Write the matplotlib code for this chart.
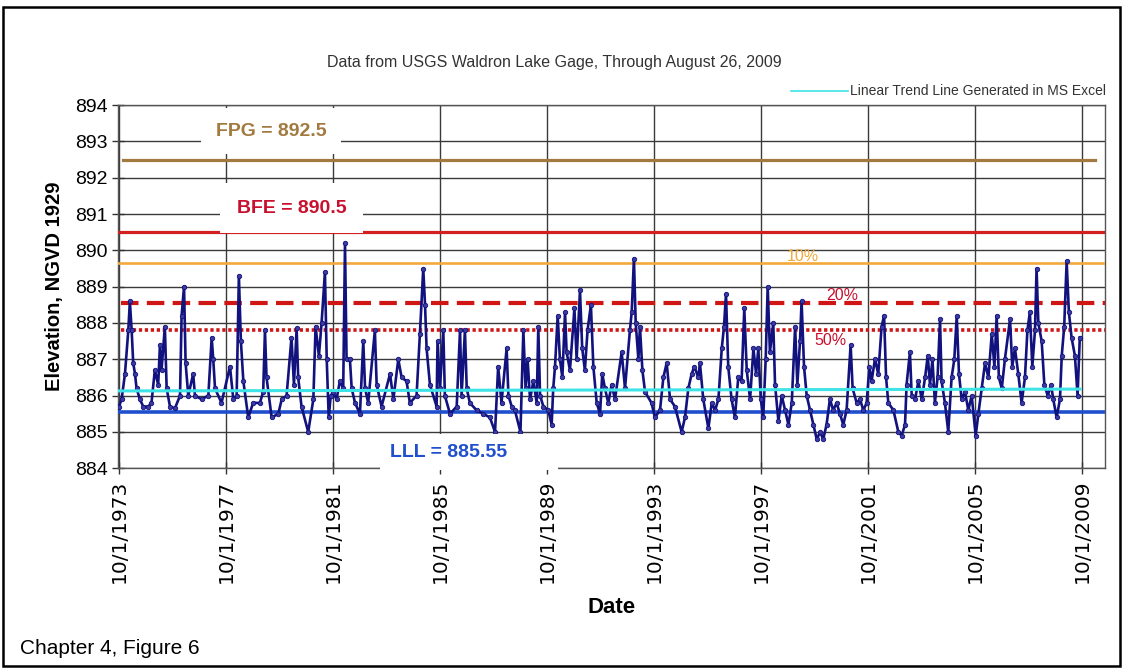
import matplotlib
matplotlib.use("Agg")
import matplotlib.pyplot as plt
import numpy as np
import pandas as pd
from matplotlib.patches import Rectangle

plt.rcParams['font.family'] = ['Liberation Sans', 'DejaVu Sans']

# gage readings: months since 10/1/1973 and lake elevation (ft, NGVD 1929)
month_offset = [
    0.0, 1.2, 2.7, 4.2, 4.9, 5.7, 6.4, 7.2, 7.9, 9.4, 10.9, 13.2, 14.6, 16.1, 17.6,
    18.4, 19.1, 20.6, 21.4, 22.9, 25.1, 27.4, 28.1, 29.2, 29.9, 31.1, 33.3, 34.1,
    37.1, 40.1, 41.6, 42.3, 43.1, 46.0, 49.8, 51.3, 52.8, 53.8, 54.7, 55.8, 58.0,
    60.2, 63.2, 64.7, 65.5, 66.2, 68.5, 71.5, 73.0, 75.2, 77.4, 78.5, 79.7, 80.4,
    81.9, 84.9, 87.2, 88.2, 89.7, 90.9, 92.4, 93.2, 94.1, 95.0, 96.1, 97.6, 99.1,
    100.6, 101.4, 102.1, 103.6, 104.4, 105.9, 108.1, 109.6, 110.4, 111.8, 114.8,
    115.6, 117.8, 121.6, 123.1, 125.3, 126.8, 129.0, 130.5, 133.5, 135.0, 136.5,
    137.3, 138.0, 139.5, 142.5, 142.9, 144.0, 145.5, 146.2, 148.5, 151.5, 153.0,
    153.7, 155.2, 156.0, 157.4, 160.4, 163.4, 166.4, 168.7, 170.1, 171.6, 173.9,
    174.7, 176.2, 177.6, 180.1, 181.4, 182.4, 183.3, 184.4, 185.9, 187.4, 188.1,
    188.9, 190.4, 192.6, 194.1, 194.8, 195.6, 196.8, 197.8, 198.9, 200.1, 200.8,
    202.3, 204.3, 205.3, 206.8, 207.8, 209.0, 210.2, 211.7, 212.8, 214.3, 215.8,
    216.8, 218.0, 219.5, 221.0, 222.5, 225.5, 227.0, 229.2, 230.0, 231.0, 231.8,
    233.0, 233.7, 234.8, 236.0, 238.9, 240.4, 242.7, 244.2, 245.7, 247.2, 249.4,
    252.4, 253.9, 255.4, 256.9, 258.1, 259.9, 260.6, 262.1, 264.4, 265.9, 267.4,
    268.9, 270.4, 271.4, 272.3, 273.3, 274.8, 276.3, 277.8, 279.3, 280.5, 281.6,
    283.1, 284.6, 285.8, 286.8, 287.9, 289.0, 290.1, 291.0, 292.0, 293.5, 294.3,
    295.8, 297.3, 298.8, 300.3, 301.8, 303.3, 304.3, 305.5, 306.2, 307.3, 308.5,
    310.0, 311.5, 313.0, 314.5, 315.9, 317.4, 318.9, 320.4, 321.9, 323.4, 324.9,
    326.4, 328.2, 329.1, 330.9, 332.4, 333.9, 335.4, 336.6, 337.6, 339.1, 340.6,
    342.1, 343.2, 344.1, 345.1, 347.4, 349.6, 351.1, 352.6, 353.3, 354.8, 355.6,
    357.1, 358.6, 360.1, 361.6, 362.8, 363.8, 364.9, 366.0, 367.2, 368.3, 369.0,
    370.5, 372.0, 373.5, 374.7, 375.8, 376.8, 378.0, 379.5, 381.0, 382.5, 384.3,
    385.5, 387.0, 388.5, 390.0, 391.5, 392.7, 393.7, 394.7, 396.0, 397.4, 399.7,
    400.7, 401.9, 403.4, 404.9, 406.4, 407.5, 408.6, 409.7, 410.9, 411.6, 412.4,
    413.9, 415.1, 416.6, 418.1, 419.1, 420.6, 422.1, 422.9, 424.0, 425.1, 426.1,
    427.3, 428.8, 430.0, 431.0,
]
elevation = [
    885.7, 885.9, 886.6, 887.8, 888.6, 887.8, 886.9, 886.6, 886.2, 885.9, 885.7, 885.7, 885.8, 886.7, 886.3,
    887.4, 886.7, 887.9, 886.2, 885.7, 885.65, 886.0, 888.2, 889.0, 886.9, 886.0, 886.6, 886.0,
    885.9, 886.0, 887.6, 887.0, 886.2, 885.8, 886.8, 885.9, 886.0, 889.3, 887.5, 886.4, 885.4,
    885.8, 885.8, 886.1, 887.8, 886.5, 885.4, 885.5, 885.9, 886.0, 887.6, 886.3, 887.85, 886.5,
    885.7, 885.0, 885.9, 887.9, 887.1, 888.0, 889.4, 887.0, 885.4, 886.0, 886.1, 885.9, 886.4,
    886.2, 890.2, 887.0, 887.0, 886.2, 885.8, 885.5, 887.5, 886.2, 885.8, 887.8,
    886.3, 885.7, 886.6, 885.9, 887.0, 886.5, 886.4, 885.8, 886.0, 887.7, 889.5,
    888.5, 887.3, 886.3, 885.7, 887.5, 886.2, 887.8, 886.0, 885.5, 885.7, 887.8,
    886.0, 887.8, 886.2, 885.8, 885.6, 885.5, 885.4, 885.0, 886.8, 885.8, 887.3,
    886.0, 885.7, 885.6, 885.0, 887.8, 886.2, 887.0, 885.9, 886.4, 885.8, 887.9,
    886.0, 885.7, 885.6, 885.2, 886.2, 886.8, 888.2, 887.0, 886.5, 888.3, 887.2,
    886.7, 888.4, 887.0, 888.9, 887.3, 886.7, 887.8, 888.5, 886.8, 885.8, 885.5,
    886.6, 886.2, 885.8, 886.3, 885.9, 887.2, 886.2, 887.8, 888.3, 889.77, 888.0,
    887.0, 887.9, 886.7, 886.1, 885.8, 885.4, 885.6, 886.5, 886.9, 885.9, 885.7,
    885.0, 885.4, 886.2, 886.6, 886.8, 886.5, 886.9, 885.9, 885.1, 885.8, 885.6,
    885.9, 887.3, 887.9, 888.8, 886.8, 885.9, 885.4, 886.5, 886.4, 888.4, 886.7,
    885.9, 887.3, 886.6, 887.3, 885.9, 885.4, 887.0, 889.0, 887.2, 888.0, 886.3,
    885.3, 886.0, 885.6, 885.2, 885.8, 887.9, 886.3, 887.5, 888.6, 886.8, 886.0,
    885.6, 885.2, 884.8, 885.0, 884.8, 885.2, 885.9, 885.6, 885.8, 885.5, 885.2,
    885.6, 887.4, 886.2, 885.8, 885.9, 885.6, 885.8, 886.8, 886.4, 887.0, 886.6,
    887.9, 888.2, 886.5, 885.8, 885.6, 885.0, 884.9, 885.2, 886.3, 887.2, 886.0,
    885.9, 886.4, 885.9, 886.5, 887.1, 886.3, 887.0, 885.8, 886.5, 888.1, 886.4,
    885.8, 885.0, 886.5, 887.0, 888.2, 886.6, 885.9, 886.1, 885.6, 886.0, 884.9,
    885.5, 886.2, 886.9, 886.5, 887.7, 886.8, 888.2, 886.5, 886.2, 887.0, 888.1,
    886.8, 887.3, 886.6, 885.8, 886.5, 887.8, 888.3, 886.8, 887.8, 889.5, 888.0,
    887.5, 886.3, 886.0, 886.3, 885.9, 885.4, 885.9, 887.1, 887.9, 889.7, 888.3,
    887.6, 887.1, 886.0, 887.6,
]

# reference elevations
fpg = 892.5
bfe = 890.5
pct10 = 889.65
pct20 = 888.55
pct50 = 887.8
lll = 885.55
trend_start, trend_end = 886.13, 886.18

tick_years = [1973, 1977, 1981, 1985, 1989, 1993, 1997, 2001, 2005, 2009]

start = pd.Timestamp('1973-10-01')
dates = start + pd.to_timedelta(np.array(month_offset) * 30.4375, unit='D')

fig = plt.figure(figsize=(11.23, 6.69), dpi=100)
ax = fig.add_axes([0.105, 0.300, 0.879, 0.543])

ax.set_ylim(884, 894)
ax.set_xlim(pd.Timestamp('1973-09-17'), pd.Timestamp('2010-08-11'))
ax.set_yticks(range(884, 895))
ticks = [pd.Timestamp(f'{y}-10-01') for y in tick_years]
ax.set_xticks(ticks)
ax.set_xticklabels([f'10/1/{y}' for y in tick_years], rotation=90,
                   fontsize=14.5, family='DejaVu Sans')
ax.tick_params(axis='y', labelsize=14, direction='inout', length=8, width=1, color='#333333')
ax.tick_params(axis='x', direction='inout', length=8, width=1, color='#333333', pad=4)
ax.grid(True, color='#3a3a3a', lw=1.0)
ax.set_axisbelow(True)
for s in ax.spines.values():
    s.set_color('#555555')
    s.set_linewidth(1.0)

# reference lines
ax.axhline(fpg, xmin=0.005, xmax=0.99, color='#A27A40', lw=2.3, zorder=3)
ax.axhline(bfe, color='#D21F1F', lw=2.3, zorder=3)
ax.axhline(pct10, color='#F2A93B', lw=1.9, zorder=3)
ax.axhline(pct20, xmin=0.003, color='#D01515', lw=3.0, ls=(0, (4.2, 2.0)), zorder=3)
ax.axhline(pct50, xmin=0.003, color='#D01515', lw=2.6, ls=(0, (0.9, 0.75)), zorder=3)
ax.axhline(lll, color='#1F4FCC', lw=2.6, zorder=3)

# data
ax.plot(dates, elevation, color='#12127E', lw=1.9, marker='o', ms=3.2,
        mfc='#3a3aa0', mec='#12127E', mew=0.6, zorder=4)

# trend line
ax.plot([dates[0], dates[-1]], [trend_start, trend_end], color='#3EE3E6', lw=2.2, zorder=5)

# labels on the lines
ax.text(0.155, 0.928, 'FPG = 892.5', transform=ax.transAxes, ha='center', va='center',
        fontsize=14, fontweight='bold', color='#A27A40',
        bbox=dict(boxstyle='square,pad=0.75', fc='white', ec='none'), zorder=6)
ax.text(0.176, 0.716, 'BFE = 890.5', transform=ax.transAxes, ha='center', va='center',
        fontsize=14, fontweight='bold', color='#C8102E',
        bbox=dict(boxstyle='square,pad=0.85', fc='white', ec='none'), zorder=6)
ax.add_patch(Rectangle((0.266, -0.006), 0.18, 0.1, transform=ax.transAxes,
                       fc='white', ec='none', zorder=6, clip_on=False))
ax.text(0.335, 0.044, 'LLL = 885.55', transform=ax.transAxes, ha='center', va='center',
        fontsize=14, fontweight='bold', color='#1F4FCC', zorder=7)
ax.text(0.694, 0.582, '10%', transform=ax.transAxes, ha='center', va='center',
        fontsize=11.5, color='#F2A93B', zorder=6)
ax.text(0.734, 0.477, '20%', transform=ax.transAxes, ha='center', va='center',
        fontsize=11.5, color='#C8102E', zorder=6)
ax.text(0.722, 0.353, '50%', transform=ax.transAxes, ha='center', va='center',
        fontsize=11.5, color='#C8102E', zorder=6)

ax.set_ylabel('Elevation, NGVD 1929', fontsize=14.5, fontweight='bold', labelpad=8)
ax.set_xlabel('Date', fontsize=16, fontweight='bold', labelpad=10)

fig.text(0.494, 0.907, 'Data from USGS Waldron Lake Gage, Through August 26, 2009',
         ha='center', va='center', fontsize=11.5, color='#333333')

# legend for the trend line
ax.plot([0.682, 0.74], [1.04, 1.04], transform=ax.transAxes, color='#3EE3E6',
        lw=1.2, clip_on=False)
ax.text(0.742, 1.04, 'Linear Trend Line Generated in MS Excel', transform=ax.transAxes,
        ha='left', va='center', fontsize=10, color='#333333')

fig.text(0.018, 0.031, 'Chapter 4, Figure 6', ha='left', va='center', fontsize=15)

fig.add_artist(Rectangle((0.003, 0.004), 0.994, 0.985, transform=fig.transFigure,
                         fill=False, ec='black', lw=1.8))

fig.savefig('out.png', dpi=100)
